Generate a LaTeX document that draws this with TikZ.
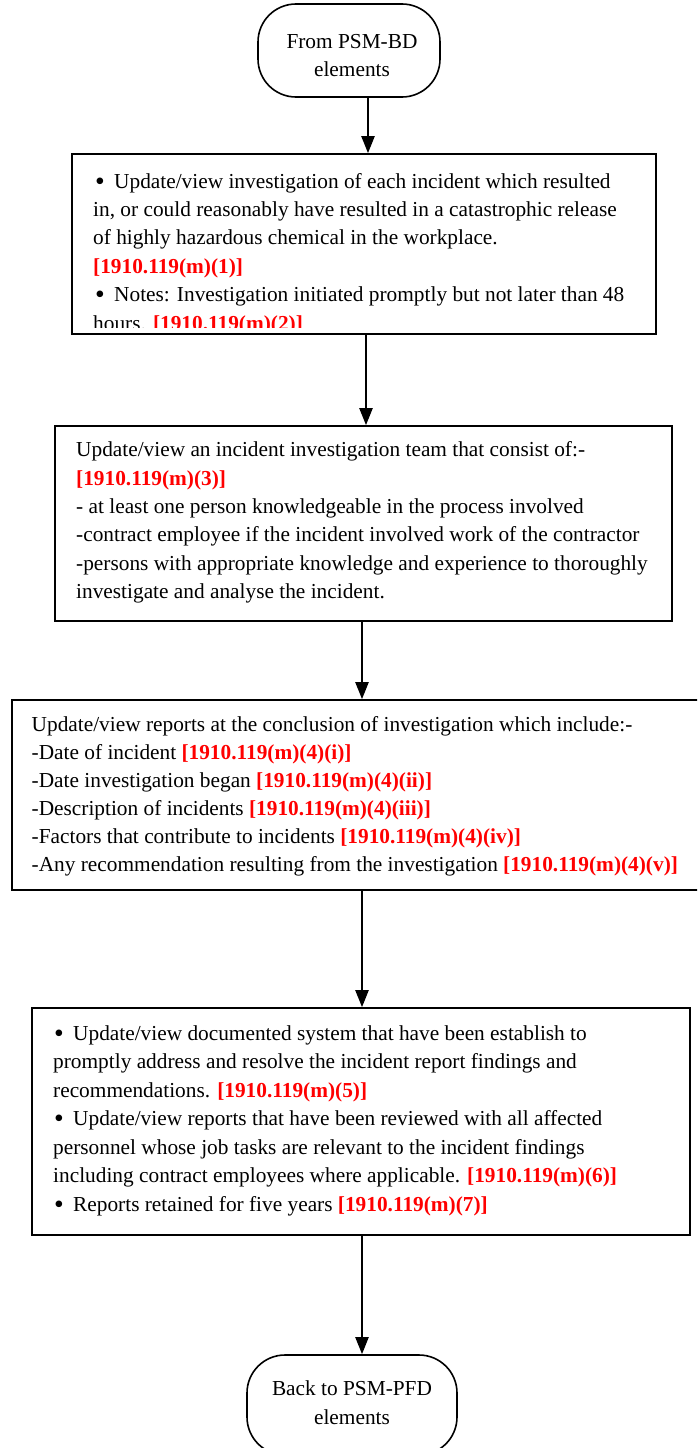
\documentclass[tikz,border=0pt]{standalone}
\usepackage{fontspec}
\setmainfont{Liberation Serif}
\usetikzlibrary{arrows.meta}
\definecolor{refred}{RGB}{255,0,0}
\newcommand{\regref}[1]{{\color{refred}\bfseries #1}}
\newcommand{\bulA}{\makebox[19pt][l]{\raisebox{-2pt}{\scalebox{1.3}{•}}}}
\tikzset{
  tl/.style={anchor=base west, inner sep=0pt, font=\fontsize{21.33}{28}\selectfont},
  tc/.style={anchor=base, inner sep=0pt, font=\fontsize{21.33}{28}\selectfont},
  boxn/.style={draw, line width=1.6pt, inner sep=0pt},
  term/.style={draw, line width=1.6pt, rounded corners=38pt, inner sep=0pt},
  arr/.style={line width=2pt, -{Triangle[length=17pt,width=13pt]}}
}
\begin{document}
\begin{tikzpicture}[x=1pt,y=-1pt]
\clip (0,0) rectangle (697,1448);
\fill[white] (0,0) rectangle (697,1448);
% shapes
\node[term, minimum width=182pt, minimum height=93pt] (top) at (349,50.5) {};
\node[boxn, minimum width=584pt, minimum height=180pt] (b1) at (364,244) {};
\node[boxn, minimum width=617pt, minimum height=195pt] (b2) at (363.5,523.5) {};
\node[boxn, minimum width=688pt, minimum height=190pt] (b3) at (356,795) {};
\node[boxn, minimum width=658pt, minimum height=227pt] (b4) at (361,1121.5) {};
\node[term, minimum width=210pt, minimum height=100pt] (bot) at (352,1405) {};
% connectors
\draw[arr] ([xshift=19pt]top.south) -- ([xshift=4pt]b1.north);
\draw[arr] ([xshift=2pt]b1.south) -- ([xshift=2.5pt]b2.north);
\draw[arr] ([xshift=-1.5pt]b2.south) -- ([xshift=6pt]b3.north);
\draw[arr] ([xshift=6pt]b3.south) -- ([xshift=1pt]b4.north);
\draw[arr] ([xshift=1pt]b4.south) -- ([xshift=10pt]bot.north);
% top terminal text
\node[tc] (t1) at (352,48) {From PSM-BD};
\node[tc] (t2) at (352,76) {elements};
% box 1 text (clipped)
\begin{scope}
\clip (72,154) rectangle (656,327.5);
\node[tl] (a1) at (95,188) {\bulA Update/view investigation of each incident which resulted};
\node[tl] (a2) at (93,216.4) {in, or could reasonably have resulted in a catastrophic release};
\node[tl] (a3) at (93,244.8) {of highly hazardous chemical in the workplace.};
\node[tl] (a4) at (93,273.2) {\regref{[1910.119(m)(1)]}};
\node[tl] (a5) at (95,301.6) {\bulA Notes: Investigation initiated promptly but not later than 48};
\node[tl] (a6) at (93,330) {hours. \regref{[1910.119(m)(2)]}};
\end{scope}
% box 2 text
\node[tl] (c1) at (76,456.7) {Update/view an incident investigation team that consist of:-};
\node[tl] (c2) at (76,485) {\regref{[1910.119(m)(3)]}};
\node[tl] (c3) at (76,513.3) {- at least one person knowledgeable in the process involved};
\node[tl] (c4) at (76,541.6) {-contract employee if the incident involved work of the contractor};
\node[tl] (c5) at (76,570) {-persons with appropriate knowledge and experience to thoroughly};
\node[tl] (c6) at (76,598.3) {investigate and analyse the incident.};
% box 3 text
\node[tl] (d1) at (31.5,731.7) {Update/view reports at the conclusion of investigation which include:-};
\node[tl] (d2) at (31.5,759.6) {-Date of incident \regref{[1910.119(m)(4)(i)]}};
\node[tl] (d3) at (31.5,787.5) {-Date investigation began \regref{[1910.119(m)(4)(ii)]}};
\node[tl] (d4) at (31.5,815.4) {-Description of incidents \regref{[1910.119(m)(4)(iii)]}};
\node[tl] (d5) at (31.5,843.3) {-Factors that contribute to incidents \regref{[1910.119(m)(4)(iv)]}};
\node[tl] (d6) at (31.5,871.2) {-Any recommendation resulting from the investigation \regref{[1910.119(m)(4)(v)]}};
% box 4 text
\node[tl] (e1) at (54,1040) {\bulA Update/view documented system that have been establish to};
\node[tl] (e2) at (53,1068.5) {promptly address and resolve the incident report findings and};
\node[tl] (e3) at (53,1097) {recommendations. \regref{[1910.119(m)(5)]}};
\node[tl] (e4) at (54,1125.5) {\bulA Update/view reports that have been reviewed with all affected};
\node[tl] (e5) at (53,1154) {personnel whose job tasks are relevant to the incident findings};
\node[tl] (e6) at (53,1182.5) {including contract employees where applicable. \regref{[1910.119(m)(6)]}};
\node[tl] (e7) at (54,1211) {\bulA Reports retained for five years \regref{[1910.119(m)(7)]}};
% bottom terminal text
\node[tc] (u1) at (352,1395) {Back to PSM-PFD};
\node[tc] (u2) at (352,1424) {elements};
\end{tikzpicture}
\end{document}
